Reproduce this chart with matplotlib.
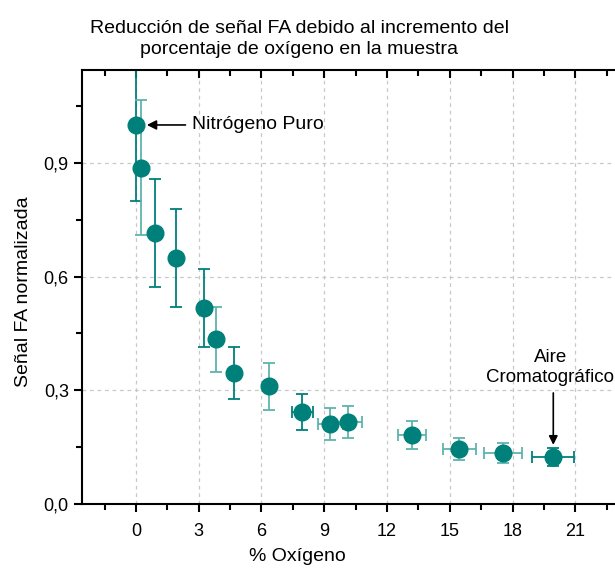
import numpy as np
import matplotlib.pyplot as plt
from matplotlib.ticker import MultipleLocator, FuncFormatter

# datos: % de oxígeno vs señal FA normalizada
oxigeno = [0.0, 0.24, 0.9, 1.9, 3.25, 3.83, 4.69, 6.36, 7.94, 9.28, 10.14, 13.2, 15.45, 17.56, 19.95]
senal = [1.0, 0.887, 0.715, 0.649, 0.517, 0.435, 0.346, 0.311, 0.243, 0.211, 0.216, 0.182, 0.145, 0.134, 0.124]
err_y = [0.2, 0.178, 0.142, 0.13, 0.103, 0.086, 0.069, 0.062, 0.048, 0.041, 0.043, 0.036, 0.029, 0.027, 0.025]
err_x = [0.0, 0.0, 0.0, 0.0, 0.0, 0.0, 0.0, 0.2, 0.5, 0.6, 0.65, 0.67, 0.79, 0.9, 1.0]

plt.rcParams.update({
    "font.family": ["Liberation Sans", "DejaVu Sans"],
    "font.size": 13,
})

teal = "#00807a"
teal_claro = "#5fb3ad"
colores_err = [teal, teal_claro, teal, teal, teal, teal_claro, teal, teal_claro,
               teal, teal_claro, teal_claro, teal_claro, teal_claro, teal_claro, teal]

fig = plt.figure(figsize=(6.15, 5.71), dpi=100)
ax = fig.add_axes([82 / 615, 1 - 504 / 571, 1 - 82 / 615, (504 - 70) / 571])

for x, y, ex, ey, c in zip(oxigeno, senal, err_x, err_y, colores_err):
    ax.errorbar(x, y, yerr=ey, xerr=ex if ex > 0 else None, fmt="none",
                ecolor=c, elinewidth=1.3, capsize=4, capthick=1.3, zorder=2)
ax.plot(oxigeno, senal, "o", color=teal, ms=12, mec=teal, zorder=3)

ax.set_xlim(-2.58, 22.9)
ax.set_ylim(0, 1.145)
ax.xaxis.set_major_locator(MultipleLocator(3))
ax.xaxis.set_minor_locator(MultipleLocator(1.5))
ax.yaxis.set_major_locator(MultipleLocator(0.3))
ax.yaxis.set_minor_locator(MultipleLocator(0.15))
ax.yaxis.set_major_formatter(FuncFormatter(lambda v, p: f"{v:.1f}".replace(".", ",")))

ax.grid(True, which="major", linestyle=(0, (3, 3)), color="#c8c8c8", lw=0.9)
ax.spines["right"].set_visible(False)
for s in ["left", "bottom", "top"]:
    ax.spines[s].set_linewidth(1.5)
ax.tick_params(which="both", direction="out", width=1.5, labelsize=13)
ax.tick_params(axis="x", which="both", top=True)
ax.tick_params(which="major", length=6)
ax.tick_params(which="minor", length=4)
ax.tick_params(axis="x", pad=8)
for t in ax.xaxis.get_ticklines(minor=False)[1::2] + ax.xaxis.get_ticklines(minor=True)[1::2]:
    t.set_marker(3)  # marcas superiores hacia adentro

ax.set_xlabel("% Oxígeno", fontsize=14)
ax.xaxis.set_label_coords((297 - 82) / (615 - 82), -44 / 434)
ax.set_ylabel("Señal FA normalizada", fontsize=14)
ax.yaxis.set_label_coords(-50 / 533, 0.49)
fig.text(299 / 615, 1 - 39 / 571,
         "Reducción de señal FA debido al incremento del\nporcentaje de oxígeno en la muestra",
         fontsize=14, ha="center", va="center", linespacing=1.35)

ax.annotate("Nitrógeno Puro", xy=(0.52, 1.0), xytext=(2.7, 1.0),
            fontsize=14, va="center",
            arrowprops=dict(arrowstyle="-|>", color="black", lw=1.2, shrinkA=3, shrinkB=0))
ax.text(19.8, 0.31, "Aire\nCromatográfico", fontsize=13.5, ha="center", va="bottom",
        multialignment="center", linespacing=1.3)
ax.annotate("", xy=(19.95, 0.156), xytext=(19.95, 0.293),
            arrowprops=dict(arrowstyle="-|>", color="black", lw=1.2, shrinkA=0, shrinkB=0))

fig.savefig("out.png", dpi=100)
